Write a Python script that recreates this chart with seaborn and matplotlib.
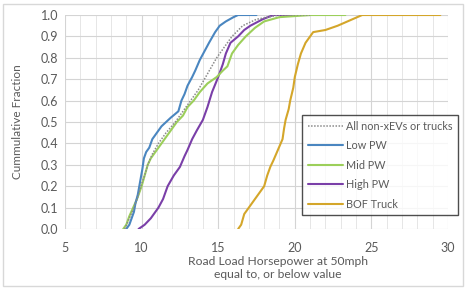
import matplotlib
matplotlib.use("Agg")
import matplotlib.pyplot as plt
import seaborn as sns
import pandas as pd
from matplotlib.ticker import MultipleLocator

# ---- data ----
all_x = [8.9, 9.2, 9.5, 9.75, 9.95, 10.2, 10.4, 10.7, 11.1, 11.6, 12.2, 12.7, 13.2, 13.7,
         14.1, 14.5, 14.9, 15.4, 15.9, 16.6, 17.5, 19.0, 21.0]
all_y = [0.0, 0.05, 0.1, 0.15, 0.2, 0.25, 0.3, 0.35, 0.4, 0.45, 0.5, 0.55, 0.6, 0.65,
         0.7, 0.75, 0.8, 0.85, 0.9, 0.95, 0.98, 1.0, 1.0]

low_x = [9.0, 9.2, 9.35, 9.5, 9.6, 9.75, 9.85, 9.95, 10.05, 10.15, 10.3, 10.5, 10.7, 11.0,
         11.3, 11.9, 12.4, 12.6, 12.8, 13.0, 13.3, 13.5, 13.8, 14.1, 14.4, 14.8, 15.1, 15.5,
         16.0, 16.3, 17.5]
low_y = [0.0, 0.02, 0.05, 0.08, 0.12, 0.16, 0.2, 0.24, 0.28, 0.33, 0.36, 0.38, 0.42, 0.45,
         0.48, 0.52, 0.55, 0.6, 0.63, 0.67, 0.71, 0.74, 0.79, 0.83, 0.87, 0.92, 0.95, 0.97,
         0.99, 1.0, 1.0]

mid_x = [8.8, 9.0, 9.2, 9.45, 9.7, 10.0, 10.2, 10.4, 10.6, 10.9, 11.2, 11.5, 11.9, 12.3,
         12.7, 13.0, 13.4, 13.8, 14.3, 14.9, 15.3, 15.6, 15.9, 16.3, 16.8, 17.4, 18.0, 19.0,
         21.0, 23.3]
mid_y = [0.0, 0.02, 0.06, 0.1, 0.14, 0.2, 0.25, 0.3, 0.33, 0.36, 0.39, 0.42, 0.46, 0.5,
         0.53, 0.57, 0.6, 0.64, 0.68, 0.71, 0.74, 0.76, 0.82, 0.86, 0.9, 0.94, 0.97, 0.99,
         1.0, 1.0]

high_x = [9.8, 10.2, 10.6, 11.1, 11.4, 11.7, 12.1, 12.5, 12.8, 13.0, 13.3, 13.6, 14.0, 14.3,
          14.6, 15.0, 15.3, 15.5, 15.8, 16.3, 16.7, 17.1, 17.9, 18.6, 21.0]
high_y = [0.0, 0.02, 0.05, 0.1, 0.14, 0.2, 0.25, 0.29, 0.34, 0.37, 0.42, 0.46, 0.51, 0.57,
          0.64, 0.71, 0.77, 0.82, 0.87, 0.9, 0.93, 0.95, 0.98, 1.0, 1.0]

bof_x = [16.3, 16.5, 16.7, 17.0, 17.2, 17.6, 18.0, 18.2, 18.4, 18.6, 18.9, 19.2, 19.3, 19.4,
         19.6, 19.7, 19.9, 20.0, 20.2, 20.4, 20.7, 21.0, 21.2, 22.0, 22.8, 23.6, 24.4, 29.5]
bof_y = [0.0, 0.02, 0.07, 0.1, 0.12, 0.16, 0.2, 0.25, 0.29, 0.32, 0.37, 0.42, 0.47, 0.51,
         0.56, 0.6, 0.66, 0.71, 0.77, 0.82, 0.87, 0.9, 0.92, 0.93, 0.95, 0.975, 1.0, 1.0]

series_names = ["All non-xEVs or trucks", "Low PW", "Mid PW", "High PW", "BOF Truck"]
x_ticks = [5, 10, 15, 20, 25, 30]
y_ticks = [0.0, 0.1, 0.2, 0.3, 0.4, 0.5, 0.6, 0.7, 0.8, 0.9, 1.0]
x_label = "Road Load Horsepower at 50mph\nequal to, or below value"
y_label = "Cummulative Fraction"

# ---- styling ----
sns.set_theme(style="white")
plt.rcParams["font.family"] = ["Lato", "DejaVu Sans"]

colors = {
    "All non-xEVs or trucks": "#8a8a8a",
    "Low PW": "#4a86c0",
    "Mid PW": "#9ccf5a",
    "High PW": "#7a3fa8",
    "BOF Truck": "#d4a62a",
}
styles = {
    "All non-xEVs or trucks": (0, (1, 1)),
    "Low PW": "-",
    "Mid PW": "-",
    "High PW": "-",
    "BOF Truck": "-",
}

fig = plt.figure(figsize=(4.66, 2.89), dpi=100)
ax = fig.add_axes([65 / 466, 1 - 229 / 289, (448 - 65) / 466, (229 - 15) / 289])

data = [
    (all_x, all_y),
    (low_x, low_y),
    (mid_x, mid_y),
    (high_x, high_y),
    (bof_x, bof_y),
]
order = [4, 3, 2, 1, 0]
handles = {}
for i in order:
    name = series_names[i]
    xs, ys = data[i]
    df = pd.DataFrame({"x": xs, "y": ys})
    lw = 1.1 if i == 0 else 1.5
    sns.lineplot(data=df, x="x", y="y", ax=ax, sort=False, estimator=None,
                 color=colors[name], linestyle=styles[name], linewidth=lw)
    handles[name] = ax.lines[-1]

ax.set_xlim(5, 30)
ax.set_ylim(0, 1.0)
ax.set_xticks(x_ticks)
ax.set_yticks(y_ticks)
ax.set_yticklabels([f"{v:.1f}" for v in y_ticks])
ax.xaxis.set_minor_locator(MultipleLocator(1))
ax.grid(which="major", axis="both", color="#d4d4d4", linewidth=0.8)
ax.grid(which="minor", axis="x", color="#e6e6e6", linewidth=0.7)
ax.set_axisbelow(True)
for s in ax.spines.values():
    s.set_visible(False)
ax.tick_params(axis="both", which="both", length=0, labelsize=9,
               labelcolor="#5a5a5a", pad=5)
ax.tick_params(axis="x", pad=9)

ax.set_xlabel(x_label, fontsize=8.7, color="#5a5a5a", linespacing=1.2)
ax.set_ylabel(y_label, fontsize=8.5, color="#5a5a5a")
ax.xaxis.set_label_coords(0.555, -0.128, transform=ax.transAxes)
ax.xaxis.label.set_va("top")
ax.yaxis.set_label_coords(-0.11, 0.5)

leg = fig.legend([handles[n] for n in series_names], series_names,
                 loc="upper left", bbox_to_anchor=(297 / 466, 1 - 110 / 289),
                 bbox_transform=fig.transFigure, frameon=True, fancybox=False,
                 fontsize=7.8, handlelength=3.2, handletextpad=0.3,
                 labelspacing=0.78, borderpad=0.5, labelcolor="#5a5a5a")
leg.get_frame().set_edgecolor("#222222")
leg.get_frame().set_linewidth(1.0)

fig.patches.append(plt.Rectangle((0.006, 0.01), 0.988, 0.975, transform=fig.transFigure,
                                 fill=False, edgecolor="#d8d8d8", linewidth=1.0))

fig.savefig("out.png", dpi=100)
